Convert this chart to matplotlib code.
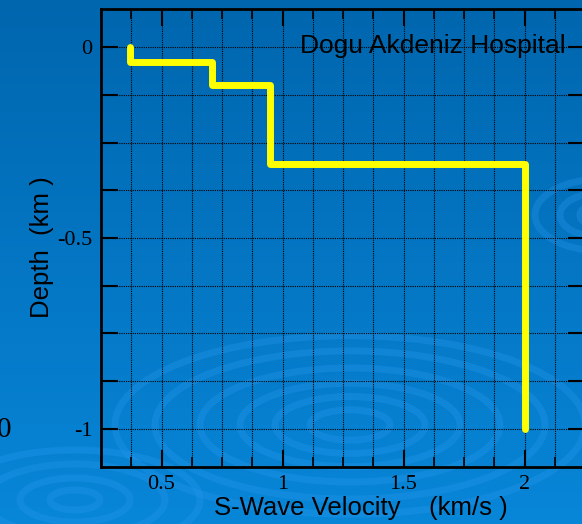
import numpy as np
import matplotlib
matplotlib.use("Agg")
import matplotlib.pyplot as plt
from matplotlib.patches import Ellipse
from matplotlib.ticker import MultipleLocator

# Data: S-wave velocity step profile
velocity = [0.37, 0.37, 0.71, 0.71, 0.95, 0.95, 2.0, 2.0]
depth = [0.0, -0.04, -0.04, -0.1, -0.1, -0.305, -0.305, -1.0]
xticks = [0.5, 1, 1.5, 2]
xtick_labels = ["0.5", "1", "1.5", "2"]
yticks = [0, -0.5, -1]
ytick_labels = ["0", "-0.5", "-1"]
title = "Dogu Akdeniz Hospital"

W, H = 582, 524
fig = plt.figure(figsize=(W / 100, H / 100), dpi=100)

# Background gradient
bg = fig.add_axes([0, 0, 1, 1], zorder=0)
grad = np.linspace(0, 1, 256).reshape(-1, 1)
top = np.array([0x00, 0x66, 0xAE]) / 255
bot = np.array([0x08, 0x86, 0xD8]) / 255
img = top[None, None, :] * (1 - grad[:, :, None]) + bot[None, None, :] * grad[:, :, None]
bg.imshow(img, extent=[0, W, H, 0], aspect="auto")
ring_col = "#2a9af0"
for cx, cy, radii, ratio in [
    (350, 425, [40, 75, 110, 150, 195, 235], 0.38),
    (75, 500, [25, 55, 90, 125], 0.4),
    (600, 215, [20, 40, 65], 0.55),
]:
    for r in radii:
        bg.add_patch(Ellipse((cx, cy), 2 * r, 2 * r * ratio, fill=False,
                             ec=ring_col, lw=5, alpha=0.3))
bg.set_xlim(0, W)
bg.set_ylim(H, 0)
bg.axis("off")

ax = fig.add_axes([101 / W, 57 / H, 484 / W, 458 / H], zorder=1)
ax.patch.set_alpha(0)
ax.plot(velocity, depth, color="#ffff00", lw=5, solid_capstyle="round",
        solid_joinstyle="round", zorder=3)
ax.set_xlim(0.25, 2.25)
ax.set_ylim(-1.1, 0.1)
ax.xaxis.set_minor_locator(MultipleLocator(0.125))
ax.yaxis.set_minor_locator(MultipleLocator(0.125))
ax.set_xticks(xticks)
ax.set_xticklabels(xtick_labels)
ax.set_yticks(yticks)
ax.set_yticklabels(ytick_labels)
ax.grid(which="both", color="black", ls=(0, (1, 1)), lw=0.8)
ax.tick_params(which="both", direction="in", top=True, right=True, colors="black",
               labelsize=16, pad=6)
ax.tick_params(axis="x", which="major", length=12, width=1.5)
ax.tick_params(axis="x", which="minor", length=7, width=1.2)
ax.tick_params(axis="y", which="both", length=12, width=1.5)
for lab in ax.get_xticklabels() + ax.get_yticklabels():
    lab.set_fontfamily("Liberation Serif")
for s in ax.spines.values():
    s.set_linewidth(2)
    s.set_color("black")

ax.text((566 - 101) / 484, 1 - (46 - 9) / 458, title, transform=ax.transAxes,
        ha="right", va="center", fontsize=19, family="Liberation Sans", color="black")

fig.text(361 / W, 1 - 508 / H, "S-Wave Velocity    (km/s )", ha="center", va="center",
         fontsize=18.5, family="Liberation Sans", color="black")
fig.text(42 / W, 1 - 247 / H, "Depth  (km )", ha="center", va="center", rotation=90,
         fontsize=18.5, family="Liberation Sans", color="black")
fig.text(11 / W, 1 - 430 / H, "0", ha="right", va="center", fontsize=21,
         family="Liberation Serif", color="black")

fig.savefig("out.png", dpi=100)
